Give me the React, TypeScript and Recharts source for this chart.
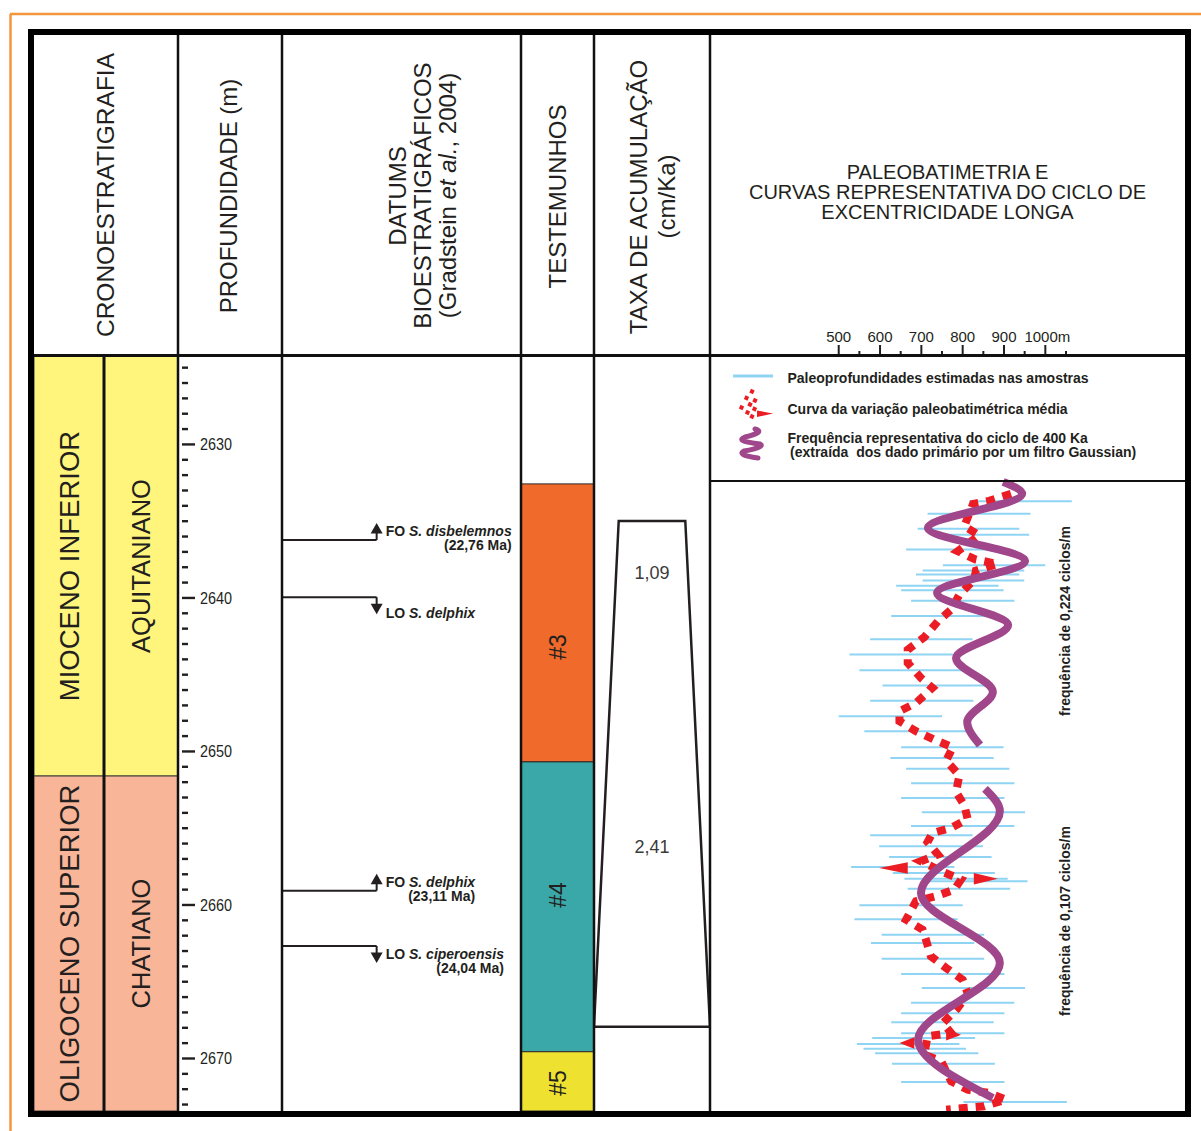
import React from "react";
import { ComposedChart, XAxis, YAxis, Scatter, ReferenceArea, ReferenceLine } from "recharts";

const FONT = "'Liberation Sans', Arial, Helvetica, sans-serif";
const INK = "#231f20";
const RED = "#ec1c24";
const PURPLE = "#a0468a";
const SKY = "#8fd4f2";

// vertical extent of the log body (m)
const DEPTH_TOP = 2624.24;
const DEPTH_BOTTOM = 2673.42;
const BODY_TOP = 356;
const BODY_H = 755;

// cronoestratigrafia
const epochNames = ["MIOCENO INFERIOR", "OLIGOCENO SUPERIOR"];
const stageNames = ["AQUITANIANO", "CHATIANO"];
const chronoTops = [DEPTH_TOP, 2651.6];
const chronoBases = [2651.6, DEPTH_BOTTOM];
const chronoColors = ["#fff57c", "#f8b598"];

// escala de profundidade
const depthLabels = [2630, 2640, 2650, 2660, 2670];
const depthTicks = Array.from({ length: 49 }, (_, i) => 2625 + i);

// datums bioestratigráficos
const datumDepths = [2636.22, 2639.95, 2659.07, 2662.67];
const datumTypes = ["FO", "LO", "FO", "LO"];
const datumTaxa = ["S. disbelemnos", "S. delphix", "S. delphix", "S. ciperoensis"];
const datumAges = ["(22,76 Ma)", "", "(23,11 Ma)", "(24,04 Ma)"];
const DATUM_STUB = 0.396;

// testemunhos
const coreNames = ["#3", "#4", "#5"];
const coreTops = [2632.57, 2650.68, 2669.56];
const coreBases = [2650.68, 2669.56, DEPTH_BOTTOM];
const coreLabelDepths = [2643.19, 2659.35, 2671.6];
const coreColors = ["#ef6a2b", "#3aa8a8", "#efe12f"];

// taxa de acumulação
const rateValues = ["1,09", "2,41"];
const rateDepths = [2638.37, 2656.16];
const rateTop = 2634.98;
const rateBase = 2667.93;
const rateHalfTop = 0.574;
const rateHalfBase = 1;

// paleobatimetria (m)
const BATHY_DOMAIN = [188.5, 1345.3];
const bathyTicks = [500, 550, 600, 650, 700, 750, 800, 850, 900, 950, 1000, 1050];
const bathyLabels = [500, 600, 700, 800, 900, 1000];

const sampleDepths = [
  2633.7, 2634.51, 2635.5, 2635.88, 2636.85, 2637.87, 2638.22, 2638.48, 2638.87, 2639.2,
  2639.5, 2640.18, 2641.17, 2642.69, 2643.69, 2644.71, 2645.71, 2646.69, 2647.71, 2648.68,
  2649.73, 2650.42, 2651.12, 2652.07, 2653.03, 2653.96, 2654.85, 2655.46, 2656.18, 2656.87,
  2657.52, 2657.92, 2658.29, 2658.46, 2658.94, 2660.02, 2660.93, 2661.94, 2662.48, 2663.5,
  2664.5, 2665.41, 2666.37, 2667.06, 2667.64, 2668.36, 2668.67, 2669.06, 2669.36, 2669.66,
  2670.34, 2671.53, 2672.83,
];
const sampleMin = [
  816, 715, 691, 748, 663, 752, 703, 687, 703, 639,
  651, 675, 627, 576, 526, 550, 606, 576, 500, 562,
  651, 625, 663, 675, 651, 701, 675, 576, 598, 622,
  530, 631, 659, 707, 667, 550, 538, 604, 578, 604,
  651, 701, 675, 651, 627, 651, 581, 544, 560, 588,
  629, 651, 802,
];
const sampleMax = [
  1064, 964, 937, 961, 905, 1000, 949, 937, 949, 887,
  899, 925, 877, 824, 776, 800, 854, 826, 750, 810,
  899, 875, 913, 925, 901, 951, 925, 824, 849, 870,
  780, 878, 909, 957, 915, 800, 788, 852, 828, 852,
  901, 951, 925, 901, 875, 901, 830, 792, 808, 838,
  878, 901, 1052,
];

const meanDepths = [
  2633.22, 2633.68, 2633.88, 2635.33, 2635.92, 2636.96, 2637.5, 2637.79, 2638.22, 2638.81,
  2639.79, 2640.76, 2641.52, 2642.56, 2643.37, 2644.23, 2645.21, 2645.86, 2646.84, 2647.38,
  2648.03, 2648.68, 2649.23, 2649.73, 2650.6, 2651.55, 2652.64, 2653.51, 2654.4, 2654.98,
  2655.31, 2655.9, 2656.72, 2657.15, 2657.8, 2658.35, 2659.0, 2659.43, 2659.76, 2660.96,
  2661.61, 2662.26, 2663.34, 2664.1, 2664.87, 2665.8, 2666.78, 2667.69, 2668.34, 2668.55,
  2669.75, 2670.18, 2671.49, 2672.03, 2672.25, 2672.68, 2673.11, 2673.23, 2673.34,
];
const meanValues = [
  917, 864, 825, 804, 840, 788, 832, 885, 832, 828,
  792, 772, 740, 707, 667, 667, 699, 727, 687, 647,
  647, 687, 731, 776, 760, 792, 784, 804, 812, 772,
  727, 715, 740, 699, 748, 796, 780, 735, 687, 663,
  703, 711, 723, 760, 800, 813, 786, 752, 772, 715,
  707, 748, 772, 812, 864, 905, 852, 804, 760,
];

// abrupt excursions of the mean curve
const spikeDepths = [2657.59, 2658.29, 2668.45, 2668.99];
const spikeTips = [598, 885, 796, 647];
const spikeBases = [667, 827, 760, 683];
const SPIKE_HALF = 0.38;

const cycle224Depths = [2632.44, 2633.22, 2635.44, 2637.59, 2639.67, 2641.76, 2643.91, 2646.12, 2648.08, 2649.58];
const cycle224Values = [898, 944, 716, 951, 738, 910, 784, 873, 811, 842];
const cycle107Depths = [2652.44, 2653.88, 2659.22, 2663.78, 2668.77, 2672.57];
const cycle107Values = [854, 890, 699, 890, 692, 873];

const toPoints = (depths: number[], values: number[]) => depths.map((d, i) => ({ v: values[i], d }));

const noDot = () => <g />;

const rotatedText = (size: number, weight: string = "normal") => (p: any) => (
  <text
    transform={`translate(${p.cx},${p.cy}) rotate(-90)`}
    textAnchor="middle"
    dy="0.36em"
    fontSize={size}
    fontWeight={weight}
    fontFamily={FONT}
    fill={INK}
  >
    {p.payload.label}
  </text>
);

const plainText = (size: number) => (p: any) => (
  <text x={p.cx} y={p.cy} textAnchor="middle" dy="0.36em" fontSize={size} fontFamily={FONT} fill="#3a3a3a">
    {p.payload.label}
  </text>
);

// depth scale mark: short tick every metre, long tick + label every 10 m
function DepthMark(p: any) {
  const { cx, cy } = p;
  const major = depthLabels.includes(p.payload.d);
  return (
    <g>
      <line x1={cx + 4} x2={cx + (major ? 17 : 10)} y1={cy} y2={cy} stroke={INK} strokeWidth={2.4} />
      {major && (
        <text x={cx + 22} y={cy + 6} fontSize={16} fontFamily={FONT} fill={INK} textLength={32} lengthAdjust="spacingAndGlyphs">
          {p.payload.d}
        </text>
      )}
    </g>
  );
}

function BathyTick({ x, y, payload }: any) {
  const v = payload.value;
  const major = bathyLabels.includes(v);
  return (
    <g>
      <line x1={x} x2={x} y1={y - 2} y2={y - (major ? 11 : 5)} stroke={INK} strokeWidth={2} />
      {major && (
        <text x={v === 1000 ? x + 2 : x} y={y - 14.5} textAnchor="middle" fontSize={15} fontFamily={FONT} fill={INK}>
          {v === 1000 ? "1000m" : v}
        </text>
      )}
    </g>
  );
}

function DatumMark(p: any) {
  const i = p.payload.i;
  if (i === undefined) return <g />;
  const { cx, cy } = p;
  const up = datumTypes[i] === "FO";
  const s = up ? -1 : 1;
  const age = datumAges[i];
  const top = up ? cy - 16 : age ? cy + 1 : cy + 7;
  return (
    <g>
      <line x1={cx} x2={cx} y1={cy} y2={cy + s * 8} stroke={INK} strokeWidth={2} />
      <polygon
        points={`${cx - 6},${cy + s * 6.5} ${cx + 6},${cy + s * 6.5} ${cx},${cy + s * 17}`}
        fill={INK}
      />
      <foreignObject x={cx + 9} y={top} width={160} height={34}>
        <div
          style={{
            display: "inline-block",
            textAlign: "right",
            font: `bold 14px/14px ${FONT}`,
            color: INK,
            whiteSpace: "nowrap",
          }}
        >
          {datumTypes[i]} <i>{datumTaxa[i]}</i>
          {age && (
            <>
              <br />
              {age}
            </>
          )}
        </div>
      </foreignObject>
    </g>
  );
}

function Strip({ left, width, xDomain = [0, 1], children }: any) {
  return (
    <div style={{ position: "absolute", left, top: BODY_TOP, width, height: BODY_H }}>
      <ComposedChart width={width} height={BODY_H} margin={{ top: 0, right: 0, bottom: 0, left: 0 }}>
        <XAxis type="number" dataKey="v" domain={xDomain} allowDataOverflow hide />
        <YAxis type="number" dataKey="d" domain={[DEPTH_TOP, DEPTH_BOTTOM]} reversed allowDataOverflow hide />
        {children}
      </ComposedChart>
    </div>
  );
}

function RotText({ x, y, size, children, weight = "normal" }: any) {
  return (
    <text
      transform={`translate(${x},${y}) rotate(-90)`}
      textAnchor="middle"
      dy="0.36em"
      fontSize={size}
      fontWeight={weight}
      fontFamily={FONT}
      fill={INK}
    >
      {children}
    </text>
  );
}

export default function App() {
  const meanCurve = toPoints(meanDepths, meanValues);
  const cycle224 = toPoints(cycle224Depths, cycle224Values);
  const cycle107 = toPoints(cycle107Depths, cycle107Values);
  const rateOutline = [
    { v: -rateHalfTop, d: rateTop },
    { v: rateHalfTop, d: rateTop },
    { v: rateHalfBase, d: rateBase },
    { v: -rateHalfBase, d: rateBase },
  ];

  return (
    <div style={{ position: "absolute", left: 0, top: 0, width: 1201, height: 1131, background: "#fff" }}>
      {/* cronoestratigrafia: época e andar */}
      <Strip left={34} width={70}>
        {epochNames.map((n, i) => (
          <ReferenceArea key={n} x1={0} x2={1} y1={chronoTops[i]} y2={chronoBases[i]} fill={chronoColors[i]}
            fillOpacity={1} stroke="#3a3a3a" strokeWidth={1} ifOverflow="hidden" />
        ))}
        <Scatter
          data={epochNames.map((n, i) => ({ v: 0.5, d: (chronoTops[i] + chronoBases[i]) / 2, label: n }))}
          shape={rotatedText(27.5)}
          isAnimationActive={false}
        />
      </Strip>
      <Strip left={104} width={74}>
        {stageNames.map((n, i) => (
          <ReferenceArea key={n} x1={0} x2={1} y1={chronoTops[i]} y2={chronoBases[i]} fill={chronoColors[i]}
            fillOpacity={1} stroke="#3a3a3a" strokeWidth={1} ifOverflow="hidden" />
        ))}
        <Scatter
          data={stageNames.map((n, i) => ({ v: 0.5, d: (chronoTops[i] + chronoBases[i]) / 2, label: n }))}
          shape={rotatedText(25.5)}
          isAnimationActive={false}
        />
      </Strip>

      {/* profundidade */}
      <Strip left={178} width={104}>
        <Scatter data={depthTicks.map((d) => ({ v: 0, d }))} shape={DepthMark} isAnimationActive={false} />
      </Strip>

      {/* datums */}
      <Strip left={282} width={239}>
        {datumDepths.map((d, i) => (
          <Scatter
            key={i}
            data={[{ v: 0, d }, { v: DATUM_STUB, d, i }]}
            line={{ stroke: INK, strokeWidth: 2 }}
            shape={DatumMark}
            isAnimationActive={false}
          />
        ))}
      </Strip>

      {/* testemunhos */}
      <Strip left={521} width={73}>
        {coreNames.map((n, i) => (
          <ReferenceArea key={n} x1={0} x2={1} y1={coreTops[i]} y2={coreBases[i]} fill={coreColors[i]}
            fillOpacity={1} stroke="#2a2a2a" strokeWidth={1} ifOverflow="hidden" />
        ))}
        <Scatter
          data={coreNames.map((n, i) => ({ v: 0.5, d: coreLabelDepths[i], label: n }))}
          shape={rotatedText(23)}
          isAnimationActive={false}
        />
      </Strip>

      {/* taxa de acumulação */}
      <Strip left={594} width={116} xDomain={[-1, 1]}>
        <Scatter
          data={rateOutline}
          line={{ stroke: INK, strokeWidth: 2.5 }}
          lineJointType="linearClosed"
          shape={noDot}
          isAnimationActive={false}
        />
        <Scatter
          data={rateValues.map((t, i) => ({ v: 0, d: rateDepths[i], label: t }))}
          shape={plainText(18)}
          isAnimationActive={false}
        />
      </Strip>

      {/* paleoprofundidades das amostras */}
      <div style={{ position: "absolute", left: 710, top: BODY_TOP }}>
        <ComposedChart width={478} height={BODY_H} margin={{ top: 0, right: 0, bottom: 0, left: 0 }}>
          <XAxis type="number" dataKey="v" domain={BATHY_DOMAIN} allowDataOverflow hide />
          <YAxis type="number" dataKey="d" domain={[DEPTH_TOP, DEPTH_BOTTOM]} reversed allowDataOverflow hide />
          {sampleDepths.map((d, i) => (
            <ReferenceLine
              key={i}
              segment={[{ x: sampleMin[i], y: d }, { x: sampleMax[i], y: d }]}
              stroke={SKY}
              strokeWidth={2}
            />
          ))}
        </ComposedChart>
      </div>

      {/* curva média e ciclos de 400 Ka */}
      <div style={{ position: "absolute", left: 710, top: 290 }}>
        <ComposedChart width={478} height={821} margin={{ top: 0, right: 0, bottom: 0, left: 0 }}>
          <XAxis
            type="number"
            dataKey="v"
            orientation="top"
            height={66}
            domain={BATHY_DOMAIN}
            allowDataOverflow
            ticks={bathyTicks}
            interval={0}
            tick={(p: any) => <BathyTick {...p} />}
            axisLine={false}
            tickLine={false}
            tickSize={0}
            tickMargin={0}
          />
          <YAxis type="number" dataKey="d" domain={[DEPTH_TOP, DEPTH_BOTTOM]} reversed allowDataOverflow hide />
          <Scatter
            data={meanCurve}
            line={{ stroke: RED, strokeWidth: 8, strokeDasharray: "9 8" }}
            shape={noDot}
            isAnimationActive={false}
          />
          {spikeDepths.map((d, i) => (
            <Scatter
              key={i}
              data={[
                { v: spikeBases[i], d: d - SPIKE_HALF },
                { v: spikeTips[i], d },
                { v: spikeBases[i], d: d + SPIKE_HALF },
              ]}
              line={{ stroke: "none", fill: RED }}
              lineJointType="linearClosed"
              shape={noDot}
              isAnimationActive={false}
            />
          ))}
          <Scatter
            data={cycle224}
            line={{ stroke: PURPLE, strokeWidth: 8 }}
            lineJointType="monotoneY"
            shape={noDot}
            isAnimationActive={false}
          />
          <Scatter
            data={cycle107}
            line={{ stroke: PURPLE, strokeWidth: 8 }}
            lineJointType="monotoneY"
            shape={noDot}
            isAnimationActive={false}
          />
        </ComposedChart>
      </div>

      {/* moldura, cabeçalhos e legenda */}
      <svg width={1201} height={1131} style={{ position: "absolute", left: 0, top: 0, pointerEvents: "none" }}>
        <line x1={10} y1={14} x2={1201} y2={14} stroke="#f4963c" strokeWidth={2.5} />
        <line x1={10.5} y1={14} x2={10.5} y2={1131} stroke="#f4963c" strokeWidth={2.5} />

        {[178, 282, 521, 594, 710].map((x) => (
          <line key={x} x1={x} x2={x} y1={35} y2={1111} stroke="#111" strokeWidth={2.5} />
        ))}
        <line x1={104} x2={104} y1={356} y2={1111} stroke="#111" strokeWidth={3} />
        <line x1={34} x2={1186} y1={355.5} y2={355.5} stroke="#111" strokeWidth={3} />
        <line x1={710} x2={1186} y1={481} y2={481} stroke="#111" strokeWidth={2} />
        <rect x={31} y={32} width={1157} height={1082} fill="none" stroke="#000" strokeWidth={6} />

        <RotText x={105.5} y={195} size={24.5}>CRONOESTRATIGRAFIA</RotText>
        <RotText x={228} y={196} size={24}>PROFUNDIDADE (m)</RotText>
        <RotText x={397.5} y={196} size={24}>DATUMS</RotText>
        <RotText x={422.5} y={195.5} size={24}>BIOESTRATIGRÁFICOS</RotText>
        <RotText x={447} y={195.5} size={24}>
          (Gradstein <tspan fontStyle="italic">et al.</tspan>, 2004)
        </RotText>
        <RotText x={557.5} y={196.5} size={24}>TESTEMUNHOS</RotText>
        <RotText x={638} y={197} size={24}>TAXA DE ACUMULAÇÃO</RotText>
        <RotText x={666} y={196.5} size={24}>(cm/Ka)</RotText>

        <g fontFamily={FONT} fontSize={20} fill={INK} textAnchor="middle">
          <text x={947.5} y={179}>PALEOBATIMETRIA E</text>
          <text x={947.5} y={199}>CURVAS REPRESENTATIVA DO CICLO DE</text>
          <text x={947.5} y={219}>EXCENTRICIDADE LONGA</text>
        </g>

        {/* legenda */}
        <line x1={733} x2={773} y1={376} y2={376} stroke={SKY} strokeWidth={3} />
        <g fill={RED}>
          {[
            [752, 391.5], [746.5, 398], [755, 400.5], [750, 404.5], [741.5, 407.5],
            [754.5, 409], [747.5, 412.5], [752, 416.5],
          ].map(([x, y], k) => (
            <rect key={k} x={x - 2} y={y - 2} width={4} height={4} transform={`rotate(25 ${x} ${y})`} />
          ))}
          <polygon points="757,410.5 773,413.5 757,417" />
        </g>
        <path
          d="M755 429 Q766 432 745 437 Q734 441 760 444 Q766 447 744 451 Q736 455 758 458"
          fill="none"
          stroke={PURPLE}
          strokeWidth={5}
          strokeLinecap="round"
        />
        <g fontFamily={FONT} fontSize={14} fontWeight="bold" fill={INK}>
          <text x={787.5} y={382.5}>Paleoprofundidades estimadas nas amostras</text>
          <text x={787.5} y={413.5}>Curva da variação paleobatimétrica média</text>
          <text x={787.5} y={442.5}>Frequência representativa do ciclo de 400 Ka</text>
          <text x={790} y={456.5} xmlSpace="preserve">(extraída  dos dado primário por um filtro Gaussian)</text>
        </g>

        <RotText x={1065} y={621} size={14} weight="bold">frequência de 0,224 ciclos/m</RotText>
        <RotText x={1065} y={921} size={14} weight="bold">frequência de 0,107 ciclos/m</RotText>
      </svg>
    </div>
  );
}
